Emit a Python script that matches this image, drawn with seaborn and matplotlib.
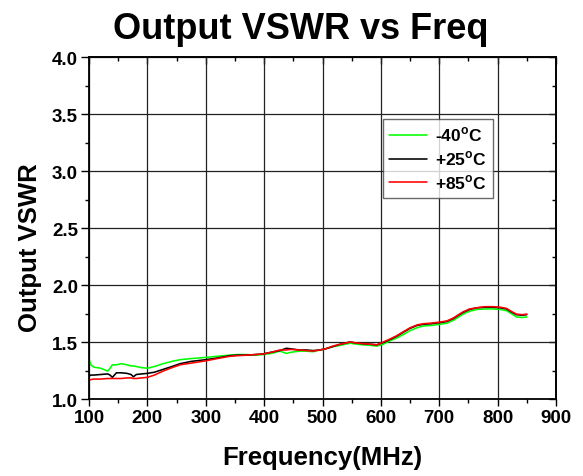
import numpy as np
import pandas as pd
import matplotlib
matplotlib.use("Agg")
import matplotlib.pyplot as plt
from matplotlib.ticker import MultipleLocator
import seaborn as sns

freq = [100, 103, 108, 120, 132, 136, 140, 147, 155, 165, 172, 176, 181, 190, 200, 212,
        227, 242, 256, 275, 300, 320, 341, 355, 370, 385, 398, 412, 427, 438, 446, 460,
        472, 484, 495, 505, 518, 530, 547, 560, 570, 583, 593, 604, 615, 627, 640, 650,
        662, 672, 685, 701, 713, 724, 733, 741, 752, 764, 778, 792, 805, 815, 823, 832,
        842, 850]

vswr_m40 = [1.35, 1.30, 1.28, 1.27, 1.245, 1.27, 1.30, 1.30, 1.31, 1.30, 1.29, 1.29,
            1.285, 1.275, 1.27, 1.285, 1.31, 1.33, 1.345, 1.355, 1.365, 1.375, 1.385,
            1.39, 1.39, 1.385, 1.39, 1.40, 1.42, 1.40, 1.41, 1.42, 1.42, 1.415, 1.43,
            1.44, 1.46, 1.47, 1.49, 1.48, 1.475, 1.47, 1.465, 1.48, 1.51, 1.535, 1.57,
            1.60, 1.625, 1.64, 1.645, 1.655, 1.665, 1.69, 1.72, 1.745, 1.77, 1.785,
            1.79, 1.79, 1.785, 1.775, 1.75, 1.72, 1.715, 1.72]

vswr_p25 = [1.20, 1.21, 1.21, 1.215, 1.22, 1.21, 1.19, 1.23, 1.23, 1.225, 1.215, 1.195,
            1.215, 1.22, 1.225, 1.235, 1.26, 1.285, 1.31, 1.33, 1.345, 1.36, 1.38,
            1.385, 1.385, 1.39, 1.395, 1.41, 1.425, 1.445, 1.44, 1.43, 1.43, 1.425,
            1.43, 1.44, 1.46, 1.48, 1.50, 1.49, 1.485, 1.48, 1.475, 1.495, 1.52, 1.55,
            1.59, 1.62, 1.645, 1.655, 1.66, 1.67, 1.68, 1.705, 1.735, 1.76, 1.785,
            1.80, 1.805, 1.805, 1.80, 1.79, 1.765, 1.74, 1.735, 1.74]

vswr_p85 = [1.165, 1.17, 1.175, 1.175, 1.18, 1.18, 1.18, 1.18, 1.18, 1.185, 1.185, 1.18,
            1.18, 1.185, 1.19, 1.21, 1.245, 1.275, 1.30, 1.315, 1.335, 1.355, 1.375,
            1.38, 1.385, 1.39, 1.395, 1.41, 1.43, 1.43, 1.435, 1.43, 1.425, 1.42, 1.43,
            1.44, 1.465, 1.48, 1.50, 1.49, 1.485, 1.48, 1.475, 1.50, 1.525, 1.555,
            1.595, 1.625, 1.65, 1.66, 1.665, 1.675, 1.685, 1.71, 1.74, 1.765, 1.79,
            1.80, 1.81, 1.81, 1.805, 1.795, 1.77, 1.745, 1.74, 1.745]

labels = ["-40$^{\\mathbf{o}}$C", "+25$^{\\mathbf{o}}$C", "+85$^{\\mathbf{o}}$C"]
colors = ["#00ff00", "#000000", "#ff0000"]

df = pd.concat([
    pd.DataFrame({"Frequency": freq, "VSWR": v, "Temp": lab})
    for v, lab in zip([vswr_m40, vswr_p25, vswr_p85], labels)
])

sns.set_theme(style="white")
plt.rcParams["font.family"] = ["Liberation Sans", "DejaVu Sans"]
plt.rcParams["mathtext.fontset"] = "custom"
plt.rcParams["mathtext.bf"] = "Liberation Sans:bold"
plt.rcParams["mathtext.rm"] = "Liberation Sans:bold"
plt.rcParams["text.color"] = "black"
plt.rcParams["axes.labelcolor"] = "black"
plt.rcParams["xtick.color"] = "black"
plt.rcParams["ytick.color"] = "black"

fig = plt.figure(figsize=(5.83, 4.77), dpi=100)
ax = fig.add_axes([0.1527, 0.1614, 0.8010, 0.7170])

sns.lineplot(data=df, x="Frequency", y="VSWR", hue="Temp", palette=colors,
             hue_order=labels, ax=ax, linewidth=1.15, sort=False, estimator=None)

ax.set_xlim(100, 900)
ax.set_ylim(1.0, 4.0)
ax.xaxis.set_major_locator(MultipleLocator(100))
ax.xaxis.set_minor_locator(MultipleLocator(50))
ax.yaxis.set_major_locator(MultipleLocator(0.5))
ax.yaxis.set_minor_locator(MultipleLocator(0.25))
ax.set_yticks(ax.get_yticks())
ax.set_yticklabels([f"{v:.1f}" for v in ax.get_yticks()])
ax.set_ylim(1.0, 4.0)

ax.grid(True, which="major", color="#222222", linewidth=0.9)
for s in ax.spines.values():
    s.set_visible(True)
    s.set_color("black")
    s.set_linewidth(1.3)

ax.tick_params(which="both", direction="out", bottom=True, left=True, top=False,
               right=False, color="black", width=1.0)
ax.tick_params(which="major", length=5, labelsize=13.5, pad=2)
ax.tick_params(axis="y", which="major", length=6, pad=2)
ax.tick_params(which="minor", length=3)
for t in ax.get_xticklabels() + ax.get_yticklabels():
    t.set_fontweight("bold")

ax2 = ax.secondary_xaxis("top")
ax2.xaxis.set_major_locator(MultipleLocator(100))
ax2.xaxis.set_minor_locator(MultipleLocator(50))
ax2.tick_params(which="both", direction="in", labeltop=False, width=1.0)
ax2.tick_params(which="major", length=5)
ax2.tick_params(which="minor", length=3)
ay2 = ax.secondary_yaxis("right")
ay2.yaxis.set_major_locator(MultipleLocator(0.5))
ay2.yaxis.set_minor_locator(MultipleLocator(0.25))
ay2.tick_params(which="both", direction="in", labelright=False, width=1.0)
ay2.tick_params(which="major", length=5)
ay2.tick_params(which="minor", length=3)

ax.set_xlabel("Frequency(MHz)", fontsize=18.5, fontweight="bold", labelpad=14)
ax.set_ylabel("Output VSWR", fontsize=18.5, fontweight="bold", labelpad=7)
ax.yaxis.label.set_y(0.447)
ax.set_title("Output VSWR vs Freq", fontsize=26, fontweight="bold", pad=14, x=0.453)

leg = ax.legend(title=None, loc="upper left", bbox_to_anchor=(0.630, 0.819),
                frameon=True, fancybox=False, fontsize=12.5, handlelength=2.2,
                borderpad=0.35, labelspacing=0.3, handletextpad=0.45,
                borderaxespad=0.0)
leg.get_frame().set_edgecolor("#444444")
leg.get_frame().set_linewidth(1.0)
for t in leg.get_texts():
    t.set_fontweight("bold")

fig.savefig("out.png", dpi=100)
